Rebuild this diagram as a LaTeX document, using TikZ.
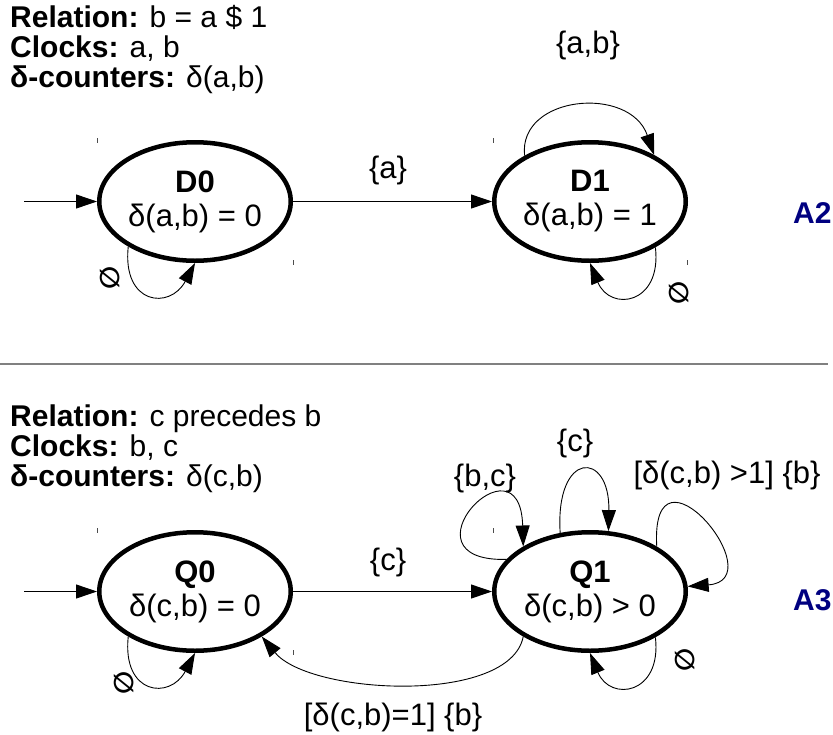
\documentclass[tikz,border=0pt]{standalone}
\usepackage{fontspec}
\setmainfont{Liberation Sans}
\newfontfamily\symfont{DejaVu Sans}
\usetikzlibrary{arrows.meta,shapes.geometric}
\definecolor{navy}{RGB}{0,0,128}
\definecolor{divgray}{RGB}{128,128,128}
\begin{document}
\begin{tikzpicture}[x=1pt,y=-1pt,
  state/.style={ellipse,draw,line width=4.5pt,minimum width=191.5pt,minimum height=118.5pt,inner sep=0pt,align=center,font=\fontsize{31}{34}\selectfont},
  hdr/.style={anchor=base west,inner sep=0pt,font=\fontsize{30}{30}\selectfont},
  lbl/.style={inner sep=0pt,font=\fontsize{31}{32}\selectfont},
  emp/.style={inner sep=0pt,font=\symfont\bfseries\fontsize{27}{30}\selectfont,rotate=90},
  atag/.style={anchor=west,inner sep=0pt,text=navy,font=\bfseries\fontsize{30}{30}\selectfont},
  trans/.style={line width=0.9pt,-{Triangle[length=21pt,width=14pt]}},
  bbtick/.style={line width=0.7pt,black!70},
]
\useasboundingbox (0,0) rectangle (833,734);

% ---------- top automaton ----------
\node[hdr] (h1) at (10,27) {\textbf{Relation:} b = a \$ 1};
\node[hdr] (h2) at (10,57) {\textbf{Clocks:} a, b};
\node[hdr] (h3) at (10,87) {\textbf{δ-counters:} δ(a,b)};

\node[state] (D0) at (195,201.5) {\textbf{D0}\\δ(a,b) = 0};
\node[state] (D1) at (590,201.5) {\textbf{D1}\\δ(a,b) = 1};

\coordinate (i0) at (24,201.5);
\draw[trans] (i0) -- (D0.west);
\draw[trans] (D0.east) -- (D1.west);
\node[lbl] (la) at (388,170) {\{a\}};

\draw[trans] (D1.145) .. controls (518,95) and (630,85) .. (D1.36);
\node[lbl] (lab) at (588,45) {\{a,b\}};

\draw[trans] (D0.-146) .. controls (122,305) and (170,310) .. (D0.south);
\node[emp] (e0) at (110,278) {∅};
\draw[trans] (D1.-35) .. controls (662,305) and (610,312) .. (D1.south);
\node[emp] (e1) at (679,293) {∅};

\node[atag] (A2) at (793,213) {A2};

\draw[bbtick] (97,138) -- (97,143);
\draw[bbtick] (293,260) -- (293,265);
\draw[bbtick] (493,138) -- (493,143);
\draw[bbtick] (687,260) -- (687,265);

% ---------- divider ----------
\coordinate (dl) at (0,364);
\coordinate (dr) at (828,364);
\draw[divgray,line width=2pt] (dl) -- (dr);

% ---------- bottom automaton ----------
\node[hdr] (k1) at (10,426) {\textbf{Relation:} c precedes b};
\node[hdr] (k2) at (10,456) {\textbf{Clocks:} b, c};
\node[hdr] (k3) at (10,486) {\textbf{δ-counters:} δ(c,b)};

\node[state] (Q0) at (195,591.5) {\textbf{Q0}\\δ(c,b) = 0};
\node[state] (Q1) at (590,591.5) {\textbf{Q1}\\δ(c,b) > 0};

\coordinate (i1) at (24,591.5);
\draw[trans] (i1) -- (Q0.west);
\draw[trans] (Q0.east) -- (Q1.west);
\node[lbl] (lc) at (388,562) {\{c\}};

\draw[trans] (Q1.159) .. controls (395,562) and (520,430) .. (Q1.146);
\node[lbl] (lbc) at (485,478) {\{b,c\}};

\draw[trans] (Q1.117) .. controls (555,450) and (610,450) .. (Q1.73);
\node[lbl] (lc2) at (575,443) {\{c\}};

\draw[trans] (Q1.34) .. controls (650,430) and (775,580) .. (Q1.3);
\node[lbl] (lg) at (727,475) {[δ(c,b) >1] \{b\}};

\draw[trans] (Q1.-146) .. controls (510,705) and (310,695) .. (Q0.-34);
\node[lbl] (lg1) at (393,717) {[δ(c,b)=1] \{b\}};

\draw[trans] (Q0.-146) .. controls (122,695) and (170,700) .. (Q0.south);
\node[emp] (e2) at (124,683) {∅};
\draw[trans] (Q1.-35) .. controls (662,695) and (610,702) .. (Q1.south);
\node[emp] (e3) at (685,660) {∅};

\node[atag] (A3) at (793,600) {A3};

\draw[bbtick] (97,528) -- (97,533);
\draw[bbtick] (293,650) -- (293,655);
\draw[bbtick] (493,528) -- (493,533);
\end{tikzpicture}
\end{document}
